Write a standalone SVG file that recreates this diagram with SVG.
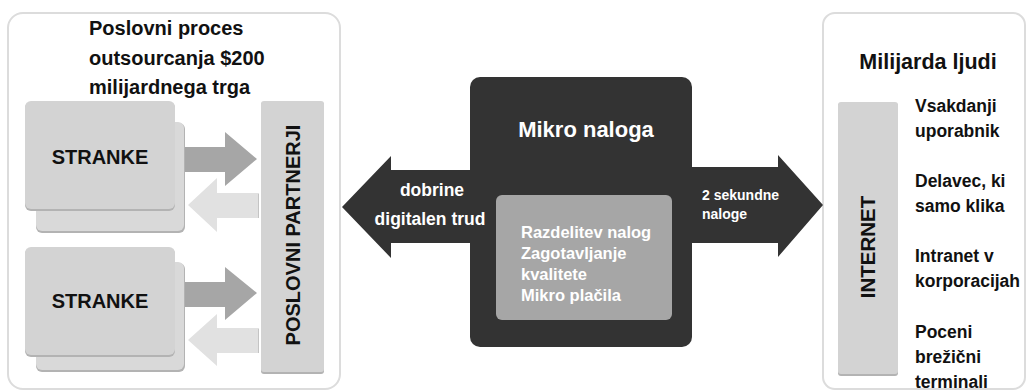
<svg xmlns="http://www.w3.org/2000/svg" width="1030" height="391" viewBox="0 0 1030 391">
  <defs>
    <style>
      .frame { fill: #ffffff; stroke: #dcdcdc; stroke-width: 2; }
      .card { fill: #d3d3d3; }
      .card-back { fill: #d9d9d9; }
      .shade { fill: #b3b3b3; }
      .bar { fill: #d3d3d3; }
      .dark { fill: #333333; }
      .inner { fill: #a6a6a6; }
      .arr-mid { fill: #a6a6a6; }
      .arr-light { fill: #e1e1e1; }
      .arr-edge { fill: none; stroke: #c4c4c4; stroke-width: 1; }
      .t { font-family: "Liberation Sans", Arial, sans-serif; font-weight: bold; fill: #111111; }
      .w { font-family: "Liberation Sans", Arial, sans-serif; font-weight: bold; fill: #ffffff; }
    </style>
  </defs>

  <!-- outsourcing side -->
  <g id="bpo-frame">
    <rect class="frame" x="8" y="13" width="332" height="376" rx="15"/>
    <text class="t" font-size="20" x="89" y="35">Poslovni proces</text>
    <text class="t" font-size="20" x="89" y="65">outsourcanja $200</text>
    <text class="t" font-size="20" x="89" y="94">milijardnega trga</text>
  </g>

  <g id="stranke-1">
    <rect class="shade" x="36" y="123" width="149" height="110" rx="6"/>
    <rect class="card-back" x="36" y="122" width="148" height="109" rx="6"/>
    <rect class="shade" x="25" y="102" width="150" height="109" rx="6"/>
    <rect class="card" x="25" y="101" width="150" height="108" rx="6"/>
    <text class="t" font-size="20" x="100" y="164" text-anchor="middle">STRANKE</text>
  </g>

  <g id="stranke-2">
    <rect class="shade" x="36" y="263" width="149" height="109" rx="6"/>
    <rect class="card-back" x="36" y="262" width="148" height="108" rx="6"/>
    <rect class="shade" x="25" y="248" width="150" height="109" rx="6"/>
    <rect class="card" x="25" y="247" width="150" height="108" rx="6"/>
    <text class="t" font-size="20" x="100" y="308" text-anchor="middle">STRANKE</text>
  </g>

  <g id="poslovni-partnerji">
    <rect class="shade" x="261" y="102" width="63" height="272" rx="3"/>
    <rect class="bar" x="261" y="101" width="63" height="271" rx="3"/>
    <text class="t" font-size="20" transform="translate(300 235) rotate(-90)" text-anchor="middle">POSLOVNI PARTNERJI</text>
  </g>

  <!-- micro-task platform -->
  <g id="mikro-naloga">
    <rect class="dark" x="470" y="77" width="222" height="270" rx="10"/>
    <text class="w" font-size="22" x="586" y="137" text-anchor="middle">Mikro naloga</text>
    <rect class="inner" x="496" y="195" width="176" height="125" rx="6"/>
    <text class="w" font-size="16.5" x="521" y="238">Razdelitev nalog</text>
    <text class="w" font-size="16.5" x="521" y="259">Zagotavljanje</text>
    <text class="w" font-size="16.5" x="521" y="280">kvalitete</text>
    <text class="w" font-size="16.5" x="521" y="301">Mikro plačila</text>
  </g>

  <!-- crowd side -->
  <g id="milijarda-ljudi">
    <rect class="frame" x="823" y="13" width="202" height="376" rx="12"/>
    <text class="t" font-size="21.5" x="928" y="69" text-anchor="middle">Milijarda ljudi</text>
    <text class="t" font-size="17.5" x="915" y="112">Vsakdanji</text>
    <text class="t" font-size="17.5" x="915" y="137">uporabnik</text>
    <text class="t" font-size="17.5" x="915" y="187">Delavec, ki</text>
    <text class="t" font-size="17.5" x="915" y="212">samo klika</text>
    <text class="t" font-size="17.5" x="915" y="262">Intranet v</text>
    <text class="t" font-size="17.5" x="915" y="287">korporacijah</text>
    <text class="t" font-size="17.5" x="915" y="338">Poceni</text>
    <text class="t" font-size="17.5" x="915" y="363">brežični</text>
    <text class="t" font-size="17.5" x="915" y="388">terminali</text>
  </g>

  <g id="internet">
    <rect class="shade" x="838" y="103" width="60" height="273" rx="3"/>
    <rect class="bar" x="838" y="102" width="60" height="272" rx="3"/>
    <text class="t" font-size="20.5" transform="translate(875 247) rotate(-90)" text-anchor="middle">INTERNET</text>
  </g>

  <!-- connectors -->
  <g id="connectors">
    <!-- stranke -> partnerji -->
    <polygon class="arr-mid" points="185,147 225,147 225,132 257,159 225,186 225,172 185,172"/>
    <polygon class="arr-mid" points="185,282 225,282 225,267 257,293 225,320 225,307 185,307"/>
    <!-- partnerji -> stranke -->
    <polygon class="arr-light" points="259,193 217,193 217,178 188,205 217,232 217,218 259,218"/>
    <polyline class="arr-edge" points="258.5,194 258.5,218"/>
    <polygon class="arr-light" points="259,328 217,328 217,314 188,340 217,366 217,353 259,353"/>
    <polyline class="arr-edge" points="258.5,329 258.5,353"/>
    <!-- platform -> business -->
    <polygon class="dark" points="471,170 391,170 391,156 342,207 391,258 391,243 471,243"/>
    <text class="w" font-size="17.5" x="432" y="196" text-anchor="middle">dobrine</text>
    <text class="w" font-size="17.5" x="430" y="225" text-anchor="middle">digitalen trud</text>
    <!-- platform -> crowd -->
    <polygon class="dark" points="691,167 778,167 778,155 823,205 778,257 778,243 691,243"/>
    <text class="w" font-size="14" x="702" y="200">2 sekundne</text>
    <text class="w" font-size="14" x="702" y="219">naloge</text>
  </g>
</svg>
